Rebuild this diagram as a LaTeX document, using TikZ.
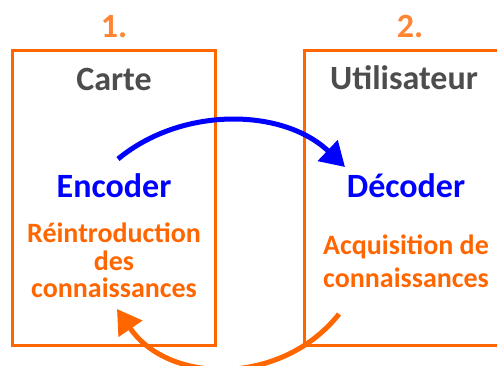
\documentclass[tikz,border=0pt]{standalone}
\usepackage{fontspec}
\setmainfont{Carlito}
\usetikzlibrary{arrows.meta}
\definecolor{orangeA}{HTML}{FF6600}
\definecolor{orangeB}{HTML}{FF8533}
\definecolor{grayT}{HTML}{4D4D4D}
\definecolor{blueT}{HTML}{0000FF}
\tikzset{
  lbl/.style={anchor=base, inner sep=0pt, font=\bfseries\fontsize{34}{40}\selectfont},
  num/.style={lbl, text=orangeB},
  head/.style={lbl, text=grayT},
  act/.style={lbl, text=blueT},
  sub/.style={anchor=base, inner sep=0pt, text=orangeA, font=\bfseries\fontsize{28}{32}\selectfont},
  frame/.style={draw=orangeA, line width=3pt},
  loop/.style={line width=5pt, -{Triangle[length=24pt,width=28pt]}}
}
\begin{document}
\begin{tikzpicture}[x=1pt,y=-1pt]
\useasboundingbox (0,0) rectangle (497,365);
\clip (0,0) rectangle (497,365);
\draw[frame] (12,50) rectangle (215,345);
\draw[frame] (304,50) rectangle (520,345);
\node[num] (n1) at (114,37) {1.};
\node[num] (n2) at (410,37) {2.};
\node[head] (carte) at (114,90) {Carte};
\node[head] (util) at (404,89) {Utilisateur};
\node[act] (enc) at (114,197) {Encoder};
\node[act] (dec) at (406,197) {Décoder};
\node[sub] (r1) at (114,242) {Réintroduction};
\node[sub] (r2) at (114,270) {des};
\node[sub] (r3) at (114,297) {connaissances};
\node[sub] (a1) at (406,254) {Acquisition de};
\node[sub] (a2) at (406,287) {connaissances};
\coordinate (bs) at (118,159);
\coordinate (be) at (345,167);
\coordinate (os) at (339,314);
\coordinate (oe) at (117,309);
\draw[loop, draw=blueT] (bs) .. controls (182,106) and (283,108) .. (be);
\draw[loop, draw=orangeA] (os) .. controls (282,386) and (169,385) .. (oe);
\end{tikzpicture}
\end{document}
